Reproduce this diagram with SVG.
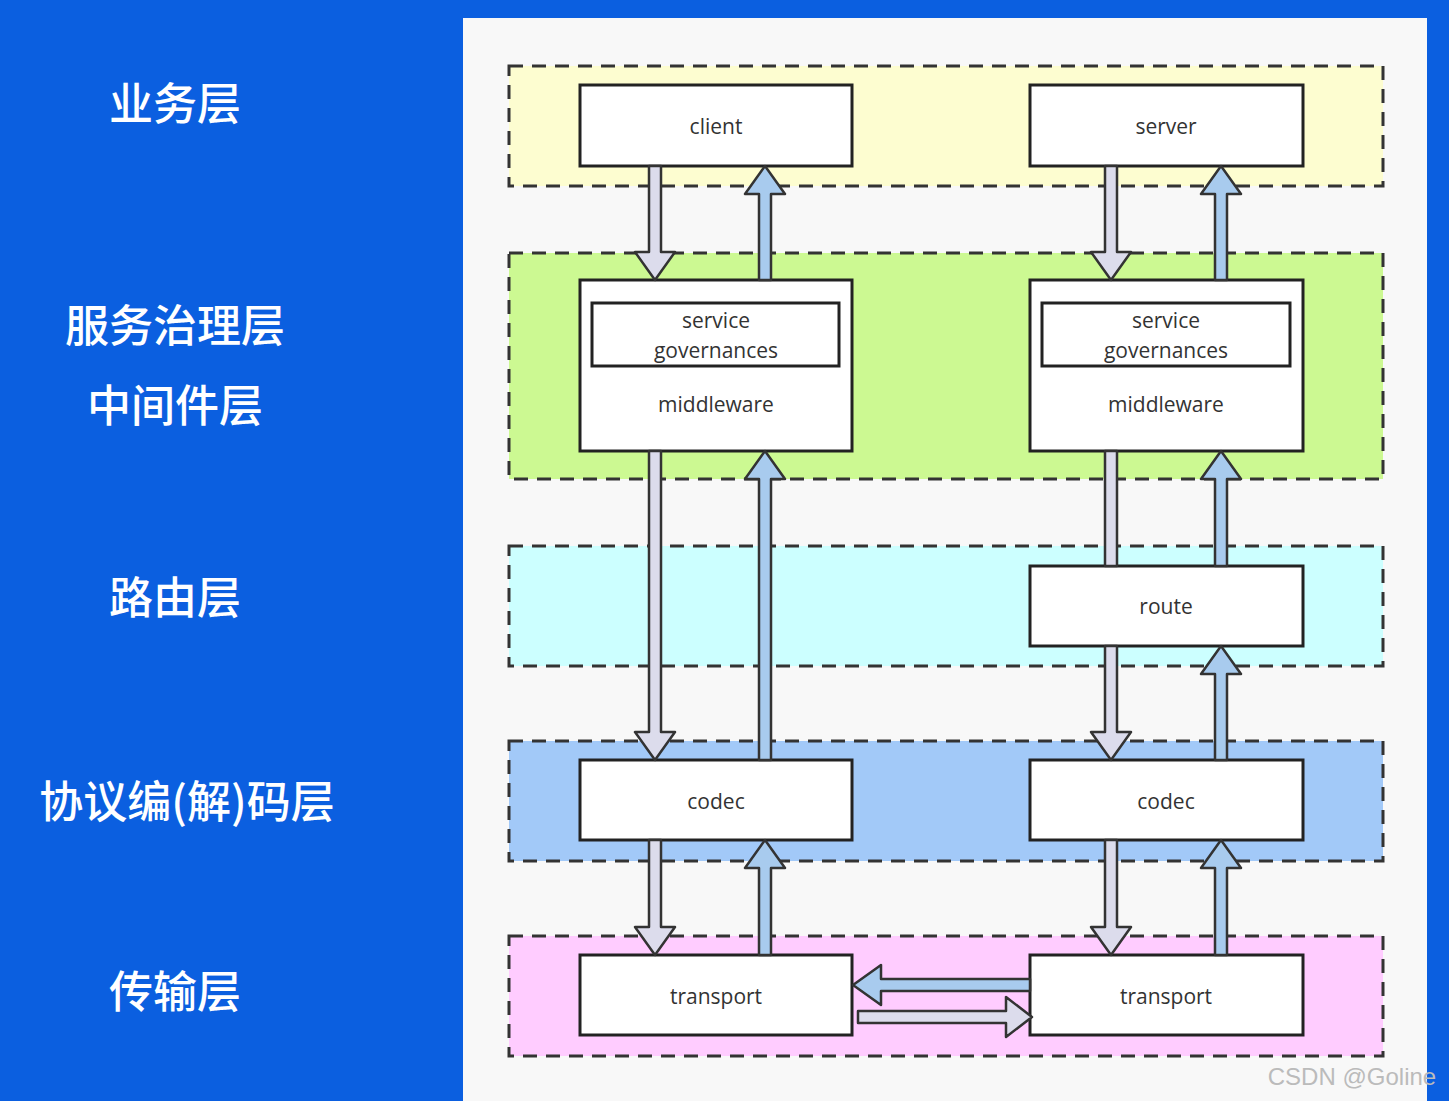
<svg xmlns="http://www.w3.org/2000/svg" width="1449" height="1101" viewBox="0 0 1449 1101">
<style>
.lbl{font-family:"Noto Sans CJK SC","Noto Sans",sans-serif;font-size:44px;font-weight:500;fill:#fff;text-anchor:middle}
.layer{stroke:#333;stroke-width:3;stroke-dasharray:14 9}
.box{fill:#fff;stroke:#222;stroke-width:3}
.t{font-family:"Open Sans","Liberation Sans",sans-serif;font-size:21px;fill:#333;text-anchor:middle}
.dn{fill:#dcdcec;stroke:#333;stroke-width:2.5;stroke-linejoin:round}
.up{fill:#a8cbee;stroke:#333;stroke-width:2.5;stroke-linejoin:round}
</style>
<rect width="1449" height="1101" fill="#0b5fe0"/>
<rect x="463" y="18" width="964" height="1083" fill="#f8f8f8"/>
<g id="labels">
<text class="lbl" x="175" y="120">业务层</text>
<text class="lbl" x="175" y="342">服务治理层</text>
<text class="lbl" x="175" y="422">中间件层</text>
<text class="lbl" x="175" y="614">路由层</text>
<text class="lbl" x="187" y="818">协议编(解)码层</text>
<text class="lbl" x="175" y="1008">传输层</text>
</g>
<g id="layers">
<rect class="layer" x="509" y="66" width="874" height="120" fill="#fdfdd0"/>
<rect class="layer" x="509" y="253" width="874" height="226" fill="#ccf992"/>
<rect class="layer" x="509" y="546" width="874" height="120" fill="#ccffff"/>
<rect class="layer" x="509" y="741" width="874" height="120" fill="#a2c9f8"/>
<rect class="layer" x="509" y="936" width="874" height="120" fill="#ffccff"/>
</g>
<g id="client"><rect class="box" x="580" y="85" width="272" height="81"/><text class="t" x="716" y="134">client</text></g>
<g id="server"><rect class="box" x="1030" y="85" width="273" height="81"/><text class="t" x="1166" y="134">server</text></g>
<g id="mw-left"><rect class="box" x="580" y="280" width="272" height="171"/><rect class="box" x="592" y="303" width="247" height="63"/><text class="t" x="716" y="328">service</text><text class="t" x="716" y="358">governances</text><text class="t" x="716" y="412">middleware</text></g>
<g id="mw-right"><rect class="box" x="1030" y="280" width="273" height="171"/><rect class="box" x="1042" y="303" width="248" height="63"/><text class="t" x="1166" y="328">service</text><text class="t" x="1166" y="358">governances</text><text class="t" x="1166" y="412">middleware</text></g>
<g id="route"><rect class="box" x="1030" y="566" width="273" height="80"/><text class="t" x="1166" y="614">route</text></g>
<g id="codec-left"><rect class="box" x="580" y="760" width="272" height="80"/><text class="t" x="716" y="809">codec</text></g>
<g id="codec-right"><rect class="box" x="1030" y="760" width="273" height="80"/><text class="t" x="1166" y="809">codec</text></g>
<g id="transport-left"><rect class="box" x="580" y="955" width="272" height="80"/><text class="t" x="716" y="1004">transport</text></g>
<g id="transport-right"><rect class="box" x="1030" y="955" width="273" height="80"/><text class="t" x="1166" y="1004">transport</text></g>
<g id="connectors">
<polygon class="dn" points="649,166 661,166 661,252 675,252 655,280 635,252 649,252"/>
<polygon class="up" points="759,280 771,280 771,194 785,194 765,166 745,194 759,194"/>
<polygon class="dn" points="1105,166 1117,166 1117,252 1131,252 1111,280 1091,252 1105,252"/>
<polygon class="up" points="1215,280 1227,280 1227,194 1241,194 1221,166 1201,194 1215,194"/>
<polygon class="dn" points="649,451 661,451 661,732 675,732 655,760 635,732 649,732"/>
<polygon class="up" points="759,760 771,760 771,479 785,479 765,451 745,479 759,479"/>
<polygon class="dn" points="1105,451 1117,451 1117,566 1105,566"/>
<polygon class="up" points="1215,566 1227,566 1227,479 1241,479 1221,451 1201,479 1215,479"/>
<polygon class="dn" points="1105,646 1117,646 1117,732 1131,732 1111,760 1091,732 1105,732"/>
<polygon class="up" points="1215,760 1227,760 1227,674 1241,674 1221,646 1201,674 1215,674"/>
<polygon class="dn" points="649,840 661,840 661,927 675,927 655,955 635,927 649,927"/>
<polygon class="up" points="759,955 771,955 771,868 785,868 765,840 745,868 759,868"/>
<polygon class="dn" points="1105,840 1117,840 1117,927 1131,927 1111,955 1091,927 1105,927"/>
<polygon class="up" points="1215,955 1227,955 1227,868 1241,868 1221,840 1201,868 1215,868"/>
<polygon class="up" points="1030,979 1030,991 881,991 881,1005 853,985 881,965 881,979"/>
<polygon class="dn" points="858,1011 858,1023 1006,1023 1006,1037 1032,1017 1006,997 1006,1011"/>
</g>
<text x="1352" y="1085" font-family="Liberation Sans,sans-serif" font-size="24" fill="#bbbbbb" text-anchor="middle">CSDN @Goline</text>
</svg>
